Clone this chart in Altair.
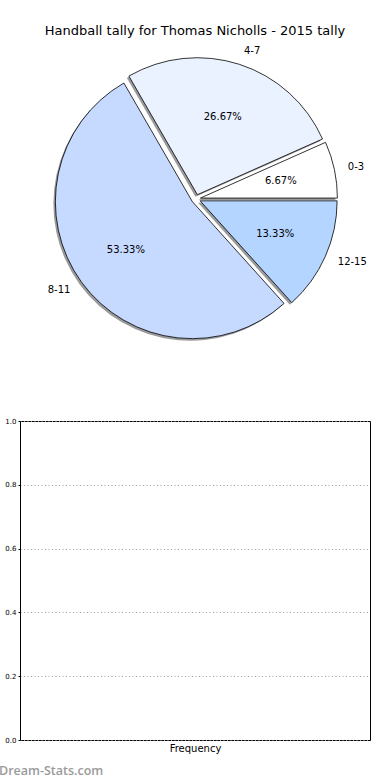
import math
import altair as alt
import pandas as pd

# ---------------- data ----------------
title_text = "Handball tally for Thomas Nicholls - 2015 tally"
slice_labels = ["0-3", "4-7", "8-11", "12-15"]
slice_counts = [1, 4, 8, 2]
slice_colors = ["#ffffff", "#ebf2ff", "#c6d9ff", "#b3d5ff"]

y_ticks = [0.0, 0.2, 0.4, 0.6, 0.8, 1.0]
freq_categories = []
freq_counts = []
x_title = "Frequency"
watermark = "Dream-Stats.com"

# ---------------- layout ----------------
W, H = 350, 319
PAD_L, PAD_T, PAD_R, PAD_B = 20, 421, 20, 40
CX, CY = 196 - PAD_L, 199 - PAD_T
R = 137
EXPLODE = 4.5
FONT = "DejaVu Sans"

pie_df = pd.DataFrame({"label": slice_labels, "value": slice_counts,
                       "idx": list(range(len(slice_labels)))})

theta_enc = alt.Theta("value:Q", stack=True,
                      scale=alt.Scale(range=[math.pi / 2, math.pi / 2 - 2 * math.pi]))
order_enc = alt.Order("idx:Q")

base = (
    alt.Chart(pie_df)
    .transform_window(cum="sum(value)", sort=[alt.SortField("idx")])
    .transform_joinaggregate(total="sum(value)")
    .transform_calculate(mid="2*PI*(datum.cum - datum.value/2)/datum.total")
    .transform_calculate(
        ex=f"{CX} + {EXPLODE}*cos(datum.mid)",
        ey=f"{CY} - {EXPLODE}*sin(datum.mid)",
        pct="format(100*datum.value/datum.total, '.2f') + '%'",
        lab_r="cos(datum.mid) >= 0 ? datum.label : ''",
        lab_l="cos(datum.mid) < 0 ? datum.label : ''",
    )
    .transform_calculate(sx="datum.ex - 2", sy="datum.ey + 2")
)

pos_x = alt.X("ex:Q", scale=None, axis=None)
pos_y = alt.Y("ey:Q", scale=None, axis=None)

shadow = base.mark_arc(radius=R, color="#8f8f8f", opacity=0.9).encode(
    x=alt.X("sx:Q", scale=None, axis=None),
    y=alt.Y("sy:Q", scale=None, axis=None),
    theta=theta_enc, order=order_enc,
)

slices = base.mark_arc(radius=R, stroke="black", strokeWidth=0.8).encode(
    x=pos_x, y=pos_y, theta=theta_enc, order=order_enc,
    color=alt.Color("label:N", scale=alt.Scale(domain=slice_labels, range=slice_colors),
                    legend=None),
)

pct_text = base.mark_text(radius=R * 0.6, fontSize=10, font=FONT, color="black").encode(
    x=pos_x, y=pos_y, theta=theta_enc, order=order_enc, text="pct:N")

lab_right = base.mark_text(radius=R * 1.1, fontSize=10, font=FONT, color="black",
                           align="left", baseline="middle").encode(
    x=pos_x, y=pos_y, theta=theta_enc, order=order_enc, text="lab_r:N")

lab_left = base.mark_text(radius=R * 1.1, fontSize=10, font=FONT, color="black",
                          align="right", baseline="middle").encode(
    x=pos_x, y=pos_y, theta=theta_enc, order=order_enc, text="lab_l:N")

title = alt.Chart(pd.DataFrame({"t": [title_text]})).mark_text(
    fontSize=13, font=FONT, color="black", align="center", baseline="alphabetic"
).encode(text="t:N", x=alt.value(175), y=alt.value(34.5 - PAD_T))

# ---------------- empty frequency chart ----------------
bar_df = pd.DataFrame({"category": freq_categories, "count": freq_counts})
bars = alt.Chart(bar_df).mark_bar().encode(
    x=alt.X("category:N", axis=alt.Axis(title=x_title, labels=False, ticks=False,
                                        domain=False, titleFontSize=10, titleFont=FONT,
                                        titleFontWeight="normal", titleColor="black",
                                        titlePadding=3)),
    y=alt.Y("count:Q", scale=alt.Scale(domain=[0, 1]),
            axis=alt.Axis(title=None, values=y_ticks, format=".1f", labelFontSize=7,
                          labelFont=FONT, labelColor="black", tickSize=2,
                          tickColor="black", domainColor="black", labelPadding=2,
                          grid=True, gridColor="#9a9a9a", gridDash=[1, 2.5])),
)

wm = alt.Chart(pd.DataFrame({"t": [watermark]})).mark_text(
    fontSize=12.5, font="Open Sans", fontWeight=600, color="#9a9a9a",
    align="left", baseline="alphabetic"
).encode(text="t:N", x=alt.value(-21), y=alt.value(775 - PAD_T))

chart = (
    alt.layer(bars, shadow, slices, pct_text, lab_right, lab_left, title, wm)
    .resolve_scale(x="independent", y="independent")
    .properties(width=W, height=H, autosize="none",
                padding={"left": PAD_L, "top": PAD_T, "right": PAD_R, "bottom": PAD_B})
    .configure(font=FONT, background="white")
    .configure_view(stroke="black", strokeWidth=1)
)

chart.save("out.html", embed_options={"renderer": "svg", "actions": False})
